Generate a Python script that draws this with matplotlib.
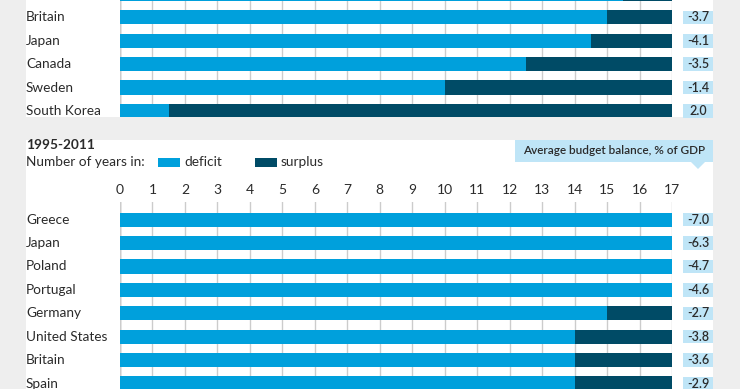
import matplotlib.pyplot as plt
import matplotlib.patches as mpatches
import matplotlib.transforms as mtransforms
import numpy as np

# Datos: panel superior (recortado) y panel 1995-2011
top_countries = ['', 'Britain', 'Japan', 'Canada', 'Sweden', 'South Korea']
top_deficit = [15.5, 15, 14.5, 12.5, 10, 1.5]
top_surplus = [1.5, 2, 2.5, 4.5, 7, 15.5]
top_balance = ['', '-3.7', '-4.1', '-3.5', '-1.4', '2.0']

bottom_countries = ['Greece', 'Japan', 'Poland', 'Portugal', 'Germany',
                    'United States', 'Britain', 'Spain']
bottom_deficit = [17, 17, 17, 17, 15, 14, 14, 14]
bottom_surplus = [0, 0, 0, 0, 2, 3, 3, 3]
bottom_balance = ['-7.0', '-6.3', '-4.7', '-4.6', '-2.7', '-3.8', '-3.6', '-2.9']

years_ticks = list(range(0, 18))

DEFICIT = '#00a0dc'
SURPLUS = '#004b66'
BOX = '#bfe5f7'
TEXT = '#2b2b2b'
GRID = '#cccccc'

plt.rcParams['font.family'] = ['Lato', 'DejaVu Sans']

W, H = 740, 389
fig = plt.figure(figsize=(W / 100, H / 100), dpi=100, facecolor='#eeeeee')


def fx(px):
    return px / W


def fy(py):
    return 1 - py / H


def panel_axes(top_px, bottom_px):
    return fig.add_axes([fx(120), fy(bottom_px), fx(672) - fx(120), fy(top_px) - fy(bottom_px)])


# Paneles blancos de fondo
for y0, y1 in [(0, 117), (140, 389)]:
    fig.patches.append(mpatches.Rectangle((fx(26), fy(y1)), fx(713) - fx(26), fy(y0) - fy(y1),
                                          transform=fig.transFigure, facecolor='white',
                                          edgecolor='none', zorder=-1))


def draw_panel(ax, countries, deficit, surplus, balance, ylim):
    ind = np.arange(len(countries))
    ax.barh(ind, deficit, height=0.6, color=DEFICIT, zorder=2)
    ax.barh(ind, surplus, left=deficit, height=0.6, color=SURPLUS, zorder=2)
    ax.set_xlim(0, 17)
    ax.set_ylim(*ylim)
    ax.set_facecolor('none')
    ax.set_xticks(years_ticks)
    ax.grid(axis='x', color=GRID, linewidth=1, zorder=0)
    ax.set_yticks([])
    for spine in ax.spines.values():
        spine.set_visible(False)
    ax.axvline(0, color='#999999', linewidth=1, zorder=1)

    # Nombres de países y cajas con el saldo presupuestario
    trans = mtransforms.blended_transform_factory(fig.transFigure, ax.transData)
    for i, (name, val) in enumerate(zip(countries, balance)):
        ax.text(fx(26), i, name, transform=trans, ha='left', va='center',
                fontsize=9.8, color=TEXT, clip_on=False)
        if val:
            ax.add_patch(mpatches.Rectangle((fx(683), i - 0.29), fx(713) - fx(683), 0.58,
                                            transform=trans, facecolor=BOX, edgecolor='none',
                                            clip_on=False))
            ax.text(fx(698), i, val, transform=trans, ha='center', va='center',
                    fontsize=9, color=TEXT, fontweight='semibold', clip_on=False)


# Panel superior (recortado en la imagen)
ax_top = panel_axes(0, 117)
draw_panel(ax_top, top_countries, top_deficit, top_surplus, top_balance, (5.26, 0.26))
ax_top.tick_params(axis='x', bottom=False, labelbottom=False, top=False, labeltop=False)

# Panel 1995-2011
ax_bot = panel_axes(202, 389)
draw_panel(ax_bot, bottom_countries, bottom_deficit, bottom_surplus, bottom_balance, (7.235, -0.756))
ax_bot.tick_params(axis='x', bottom=False, labelbottom=False, top=False, labeltop=True,
                   length=0, pad=4, labelsize=10, labelcolor=TEXT)

# Título y leyenda
fig.text(fx(26), fy(145), '1995-2011', fontsize=9.8, fontweight='bold', color=TEXT,
         ha='left', va='center')
fig.text(fx(26), fy(162), 'Number of years in:', fontsize=9.8, color=TEXT, ha='left', va='center')
for x0, lab, col in [(158, 'deficit', DEFICIT), (255, 'surplus', SURPLUS)]:
    fig.patches.append(mpatches.Rectangle((fx(x0), fy(167)), fx(22), 9 / H,
                                          transform=fig.transFigure, facecolor=col,
                                          edgecolor='none'))
    fig.text(fx(x0 + 26), fy(162), lab, fontsize=9.8, color=TEXT, ha='left', va='center')

# Etiqueta "Average budget balance"
fig.patches.append(mpatches.Rectangle((fx(515), fy(162)), fx(713) - fx(515), fy(140) - fy(162),
                                      transform=fig.transFigure, facecolor=BOX, edgecolor='none'))
fig.patches.append(mpatches.Polygon([(fx(691), fy(162)), (fx(705), fy(162)), (fx(698), fy(169))],
                                    closed=True, transform=fig.transFigure, facecolor=BOX,
                                    edgecolor='none'))
fig.text(fx(614), fy(151), 'Average budget balance, % of GDP', fontsize=8.5, color=TEXT,
         fontweight='semibold', ha='center', va='center')

plt.savefig('out.png', dpi=100, facecolor=fig.get_facecolor())
plt.close()
